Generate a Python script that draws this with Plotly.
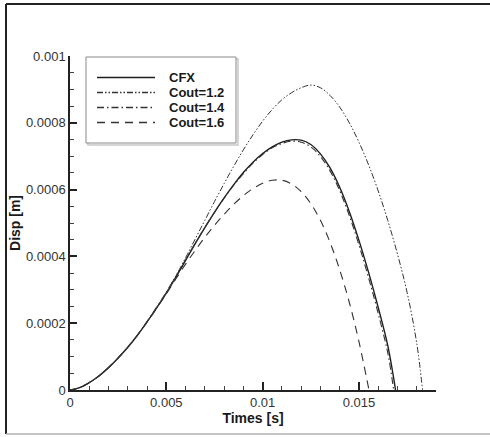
import plotly.graph_objects as go

# ---------------- data ----------------
t_cfx = [0, 0.0005, 0.001, 0.0015, 0.002, 0.0025, 0.003, 0.0035, 0.004, 0.0045, 0.005,
         0.0055, 0.006, 0.0065, 0.007, 0.0075, 0.008, 0.0085, 0.009, 0.0095, 0.010,
         0.0105, 0.011, 0.0115, 0.012, 0.0125, 0.013, 0.0135, 0.014, 0.0145, 0.015,
         0.0155, 0.016, 0.0165, 0.0169]
d_cfx = [0, 0.000007, 0.000022, 0.000042, 0.000067, 0.000096, 0.000128, 0.000164, 0.000204, 0.000246, 0.00029,
         0.000338, 0.000388, 0.000438, 0.000486, 0.000532, 0.000575, 0.000615, 0.000651, 0.000682, 0.000708,
         0.000728, 0.000742, 0.000749, 0.000748, 0.000735, 0.000707, 0.000665, 0.000607, 0.000534, 0.000448,
         0.000352, 0.000247, 0.000132, 0]

t_c12 = [0, 0.0005, 0.001, 0.0015, 0.002, 0.0025, 0.003, 0.0035, 0.004, 0.0045, 0.005,
         0.0055, 0.006, 0.0065, 0.007, 0.0075, 0.008, 0.0085, 0.009, 0.0095, 0.010,
         0.0105, 0.011, 0.0115, 0.012, 0.0125, 0.013, 0.0135, 0.014, 0.0145, 0.015,
         0.0155, 0.016, 0.0165, 0.017, 0.0175, 0.018, 0.0183]
d_c12 = [0, 0.000007, 0.000022, 0.000042, 0.000067, 0.000096, 0.000128, 0.000164, 0.000204, 0.000247, 0.000292,
         0.000342, 0.000396, 0.000452, 0.000508, 0.000564, 0.000618, 0.00067, 0.000719, 0.000764, 0.000805,
         0.00084, 0.000869, 0.00089, 0.000905, 0.000913, 0.000905, 0.000882, 0.000847, 0.0008, 0.000742,
         0.000674, 0.000596, 0.000507, 0.000407, 0.000292, 0.00014, 0]

t_c14 = [0, 0.0005, 0.001, 0.0015, 0.002, 0.0025, 0.003, 0.0035, 0.004, 0.0045, 0.005,
         0.0055, 0.006, 0.0065, 0.007, 0.0075, 0.008, 0.0085, 0.009, 0.0095, 0.010,
         0.0105, 0.011, 0.0115, 0.012, 0.0125, 0.013, 0.0135, 0.014, 0.0145, 0.015,
         0.0155, 0.016, 0.0165, 0.0168]
d_c14 = [0, 0.000007, 0.000022, 0.000042, 0.000067, 0.000096, 0.000128, 0.000164, 0.000205, 0.000248, 0.000293,
         0.000341, 0.00039, 0.000439, 0.000487, 0.000532, 0.000574, 0.000613, 0.000648, 0.000679, 0.000705,
         0.000725, 0.000738, 0.000745, 0.000742, 0.000728, 0.000699, 0.000656, 0.000597, 0.000522, 0.000434,
         0.000336, 0.000229, 0.00011, 0]

t_c16 = [0, 0.0005, 0.001, 0.0015, 0.002, 0.0025, 0.003, 0.0035, 0.004, 0.0045, 0.005,
         0.0055, 0.006, 0.0065, 0.007, 0.0075, 0.008, 0.0085, 0.009, 0.0095, 0.010,
         0.0105, 0.011, 0.0115, 0.012, 0.0125, 0.013, 0.0135, 0.014, 0.0145, 0.015,
         0.01552]
d_c16 = [0, 0.000007, 0.000022, 0.000042, 0.000067, 0.000096, 0.000128, 0.000164, 0.000203, 0.000245, 0.000288,
         0.000333, 0.000377, 0.000418, 0.000457, 0.000493, 0.000526, 0.000556, 0.000582, 0.000603, 0.000619,
         0.000628, 0.000628, 0.000617, 0.000594, 0.000558, 0.000508, 0.000442, 0.00036, 0.000262, 0.000145,
         0]

series_names = ["CFX", "Cout=1.2", "Cout=1.4", "Cout=1.6"]
x_tickvals = [0, 0.005, 0.01, 0.015]
x_ticktext = ["0", "0.005", "0.01", "0.015"]
y_tickvals = [0, 0.0002, 0.0004, 0.0006, 0.0008, 0.001]
y_ticktext = ["0", "0.0002", "0.0004", "0.0006", "0.0008", "0.001"]

# ---------------- styling ----------------
W, H = 490, 437
L, R, T, B = 70, 54, 56, 47
PW, PH = W - L - R, H - T - B
FONT = "Liberation Sans, Arial, sans-serif"

def px(xp):
    return (xp - L) / PW

def py(yp):
    return (H - B - yp) / PH

styles = [
    dict(color="#1e1e1e", width=1.4, dash="solid"),
    dict(color="#333333", width=1.0, dash="6px,2px,1.5px,2px,1.5px,2px"),
    dict(color="#333333", width=1.1, dash="7px,3px,1.5px,3px"),
    dict(color="#333333", width=1.1, dash="8px,6px"),
]
data_x = [t_cfx, t_c12, t_c14, t_c16]
data_y = [d_cfx, d_c12, d_c14, d_c16]

fig = go.Figure()
for name, xs, ys, st in zip(series_names, data_x, data_y, styles):
    fig.add_trace(go.Scatter(x=xs, y=ys, mode="lines", name=name,
                             line=dict(color=st["color"], width=st["width"], dash=st["dash"],
                                       shape="spline", smoothing=1.0),
                             showlegend=False))

shapes = []
annotations = []
# outer frame
shapes.append(dict(type="line", xref="paper", yref="paper", x0=px(6), x1=px(490), y0=py(4), y1=py(4),
                   line=dict(color="#222222", width=2)))
shapes.append(dict(type="line", xref="paper", yref="paper", x0=px(6), x1=px(6), y0=py(4), y1=py(434),
                   line=dict(color="#222222", width=2)))
shapes.append(dict(type="line", xref="paper", yref="paper", x0=px(6), x1=px(490), y0=py(434), y1=py(434),
                   line=dict(color="#b0b0b0", width=1.5)))
# legend box
shapes.append(dict(type="rect", xref="paper", yref="paper", x0=px(88), x1=px(238), y0=py(59), y1=py(145),
                   line=dict(color="#c8c8c8", width=1.5), fillcolor="rgba(0,0,0,0)"))
shapes.append(dict(type="rect", xref="paper", yref="paper", x0=px(86), x1=px(236), y0=py(57), y1=py(143),
                   line=dict(color="#888888", width=1), fillcolor="white"))
row_y = [77.5, 92.5, 107.5, 122.5]
for name, st, ry in zip(series_names, styles, row_y):
    shapes.append(dict(type="line", xref="paper", yref="paper", x0=px(97), x1=px(155), y0=py(ry), y1=py(ry),
                       line=dict(color=st["color"], width=st["width"] + 0.3, dash=st["dash"])))
    annotations.append(dict(xref="paper", yref="paper", x=px(167), y=py(ry), text=name, showarrow=False,
                            xanchor="left", yanchor="middle",
                            font=dict(family=FONT, size=13, color="#1a1a1a", weight="bold")))

fig.update_layout(
    width=W, height=H,
    margin=dict(l=L, r=R, t=T, b=B),
    paper_bgcolor="white", plot_bgcolor="white",
    font=dict(family=FONT, size=13, color="#333333"),
    shapes=shapes, annotations=annotations,
    showlegend=False,
)
fig.update_xaxes(
    range=[0, 0.019], showgrid=False, zeroline=False,
    showline=True, linecolor="#222222", linewidth=1.5,
    tickmode="array", tickvals=x_tickvals, ticktext=x_ticktext,
    ticks="inside", ticklen=8, tickwidth=1.5, tickcolor="#222222",
    minor=dict(tickmode="linear", tick0=0, dtick=0.001, ticks="inside", ticklen=4,
               tickwidth=1, tickcolor="#444444", showgrid=False),
    tickfont=dict(family=FONT, size=13, color="#333333"),
    title=dict(text="Times [s]", standoff=1,
               font=dict(family=FONT, size=14, color="#1a1a1a", weight="bold")),
)
fig.update_yaxes(
    range=[0, 0.001], showgrid=False, zeroline=False,
    showline=True, linecolor="#222222", linewidth=1.5,
    tickmode="array", tickvals=y_tickvals, ticktext=y_ticktext,
    ticks="inside", ticklen=7, tickwidth=1.5, tickcolor="#222222",
    minor=dict(tickmode="linear", tick0=0, dtick=0.00005, ticks="inside", ticklen=4,
               tickwidth=1, tickcolor="#444444", showgrid=False),
    tickfont=dict(family=FONT, size=13, color="#333333"),
    title=dict(text="Disp [m]", standoff=2,
               font=dict(family=FONT, size=14, color="#1a1a1a", weight="bold")),
)

fig.write_html("out.html")
